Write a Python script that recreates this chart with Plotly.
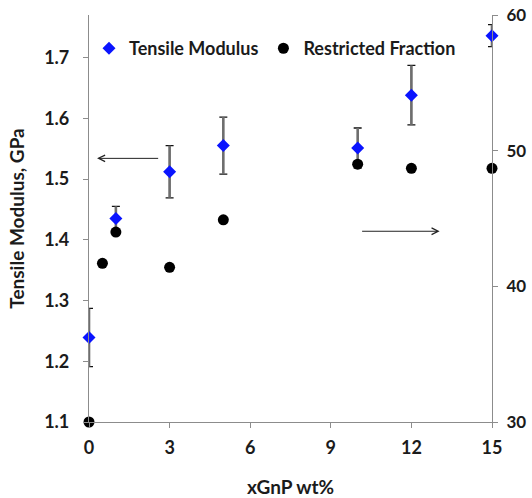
import plotly.graph_objects as go

# Data
x_mod = [0, 1, 3, 5, 10, 12, 15]
modulus = [1.239, 1.435, 1.512, 1.555, 1.551, 1.638, 1.736]
modulus_err = [0.048, 0.020, 0.043, 0.047, 0.033, 0.049, 0.018]

x_rf = [0, 0.5, 1, 3, 5, 10, 12, 15]
restricted = [30.0, 41.7, 44.0, 41.4, 44.9, 49.0, 48.7, 48.7]

x_ticks = [0, 3, 6, 9, 12, 15]
y_left_ticks = [1.1, 1.2, 1.3, 1.4, 1.5, 1.6, 1.7]
y_right_ticks = [30, 40, 50, 60]

FONT = "Lato"
TXT = "#1b1b1b"
AX = "#8c8c8c"
TICK_FONT = dict(family=FONT, size=18, color=TXT, weight="bold")
TITLE_FONT = dict(family=FONT, size=19, color=TXT, weight="bold")

fig = go.Figure()

# error bar caps (black) underneath
fig.add_trace(go.Scatter(
    x=x_mod, y=modulus, mode="markers",
    marker=dict(size=1, color="rgba(0,0,0,0)"),
    error_y=dict(type="data", array=modulus_err, color="#111111", thickness=1.3, width=4),
    showlegend=False, hoverinfo="skip", cliponaxis=False,
))
# error bar stems (gray) over them
fig.add_trace(go.Scatter(
    x=x_mod, y=modulus, mode="markers",
    marker=dict(size=1, color="rgba(0,0,0,0)"),
    error_y=dict(type="data", array=modulus_err, color="#6e6e6e", thickness=2.6, width=0),
    showlegend=False, hoverinfo="skip", cliponaxis=False,
))
# Restricted fraction on right axis
fig.add_trace(go.Scatter(
    x=x_rf, y=restricted, mode="markers", name="Restricted Fraction",
    marker=dict(symbol="circle", size=11, color="#000000"),
    yaxis="y2", cliponaxis=False,
))
# Tensile modulus markers
fig.add_trace(go.Scatter(
    x=x_mod, y=modulus, mode="markers", name="Tensile Modulus",
    marker=dict(symbol="diamond", size=10, color="#0a14ff"),
    cliponaxis=False,
))

fig.update_layout(
    width=532, height=498,
    margin=dict(l=89, r=40, t=15, b=76),
    paper_bgcolor="white", plot_bgcolor="white",
    font=dict(family=FONT, size=15, color=TXT),
    showlegend=True,
    legend=dict(
        orientation="h", x=0, y=0.963, xanchor="left", yanchor="top",
        font=dict(family=FONT, size=18, color=TXT, weight="bold"),
        bgcolor="rgba(0,0,0,0)", traceorder="reversed",
        itemwidth=30, tracegroupgap=0,
    ),
    xaxis=dict(
        range=[0, 15], tickvals=x_ticks, ticktext=[str(v) for v in x_ticks],
        showline=True, linecolor=AX, linewidth=1.2, ticks="outside",
        tickcolor=AX, ticklen=5, showgrid=False, zeroline=False,
        tickfont=TICK_FONT, ticklabelstandoff=4, automargin=False,
        title=dict(text="xGnP wt%", font=TITLE_FONT, standoff=32),
    ),
    yaxis=dict(
        range=[1.1, 1.77], tickvals=y_left_ticks,
        ticktext=[f"{v:.1f}" for v in y_left_ticks],
        showline=True, linecolor=AX, linewidth=1.2, ticks="outside",
        tickcolor=AX, ticklen=5, showgrid=False, zeroline=False,
        tickfont=TICK_FONT, ticklabelstandoff=10, automargin=False,
        title=dict(text="Tensile Modulus, GPa", font=TITLE_FONT, standoff=14),
    ),
    yaxis2=dict(
        range=[30, 60], tickvals=y_right_ticks,
        ticktext=[str(v) for v in y_right_ticks],
        overlaying="y", side="right",
        showline=True, linecolor=AX, linewidth=1.2, ticks="outside",
        tickcolor=AX, ticklen=5, showgrid=False, zeroline=False,
        tickfont=dict(family=FONT, size=17, color=TXT, weight="bold"),
        ticklabelstandoff=5, automargin=False,
    ),
)

# Arrows indicating axes
fig.add_annotation(x=0.3, y=1.534, ax=2.63, ay=1.534, xref="x", yref="y",
                   axref="x", ayref="y", text="", showarrow=True,
                   arrowhead=5, arrowsize=1.3, arrowwidth=1, arrowcolor="#222222")
fig.add_annotation(x=13.05, y=1.414, ax=10.11, ay=1.414, xref="x", yref="y",
                   axref="x", ayref="y", text="", showarrow=True,
                   arrowhead=5, arrowsize=1.3, arrowwidth=1, arrowcolor="#222222")

fig.write_html("out.html")
